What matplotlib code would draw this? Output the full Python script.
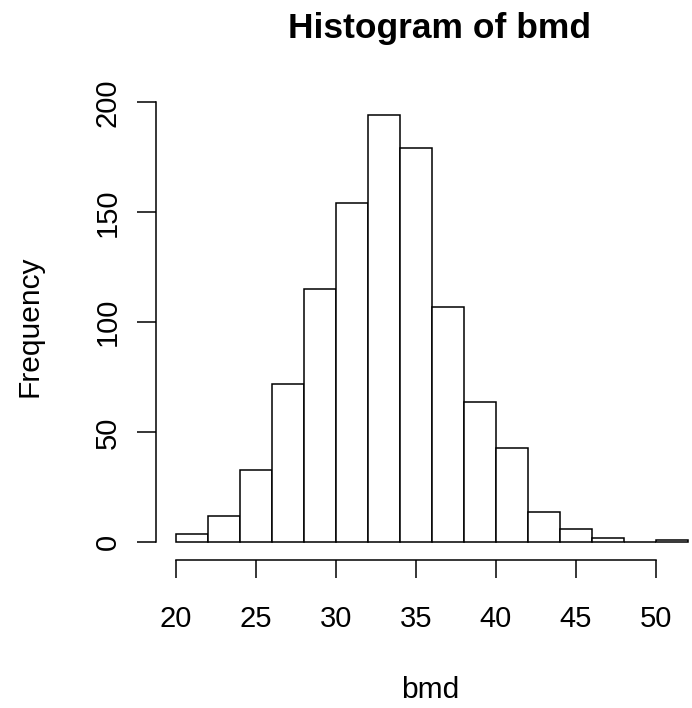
import matplotlib

matplotlib.use("Agg")
import matplotlib.pyplot as plt
import numpy as np

# histogram of bmd: bin edges and counts (n = 1000)
bin_edges = np.arange(20, 54, 2)
counts = [4, 12, 33, 72, 115, 154, 194, 179, 107, 64, 43, 14, 6, 2, 0, 1]
x_ticks = [20, 25, 30, 35, 40, 45, 50]
y_ticks = [0, 50, 100, 150, 200]

plt.rcParams["font.family"] = ["Liberation Sans", "DejaVu Sans"]

W, H = 692, 708
fig = plt.figure(figsize=(W / 100, H / 100), dpi=100)

# plot region in pixels (R style, 4% padding around the data range)
left_px, top_px, bottom_px = 155.5, 98.4, 559.4
ax = fig.add_axes([left_px / W, 1 - bottom_px / H,
                   (W - left_px) / W, (bottom_px - top_px) / H])

ax.bar(bin_edges[:-1], counts, width=2, align="edge",
       facecolor="white", edgecolor="black", linewidth=1.1)

ax.set_xlim(18.72, 18.72 + (W - left_px) / 16)
ax.set_ylim(-7.76, 201.76)

for side in ("top", "right"):
    ax.spines[side].set_visible(False)
ax.spines["left"].set_bounds(0, 200)
ax.spines["bottom"].set_bounds(20, 50)
ax.spines["bottom"].set_position(("outward", 0.5))
for side in ("left", "bottom"):
    ax.spines[side].set_linewidth(1.1)

ax.set_xticks(x_ticks)
ax.set_xticklabels([str(t) for t in x_ticks], fontsize=21)
ax.set_yticks(y_ticks)
ax.set_yticklabels([str(t) for t in y_ticks], fontsize=21,
                   rotation=90, va="center")
ax.tick_params(axis="x", length=13, width=1.1, pad=19)
ax.tick_params(axis="y", length=13.5, width=1.1, pad=11)

fig.text(430 / W, 1 - 698 / H, "bmd", fontsize=21.5,
         ha="center", va="baseline")
fig.text(38 / W, 1 - 326 / H, "Frequency", fontsize=21.5,
         ha="center", va="baseline", rotation=90, rotation_mode="anchor")
fig.text(440 / W, 1 - 38 / H, "Histogram of bmd", fontsize=25.5,
         fontweight="bold", ha="center", va="baseline")

fig.savefig("out.png", dpi=100)
